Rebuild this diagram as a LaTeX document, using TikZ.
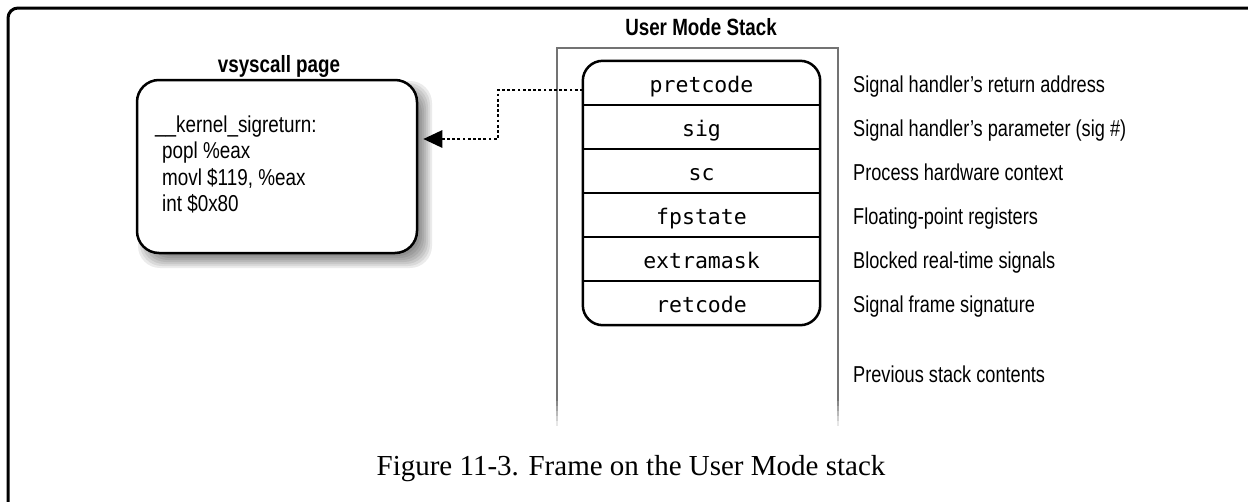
\documentclass[tikz,border=0pt]{standalone}
\usepackage{fontspec}
\setmainfont{Liberation Serif}
\newfontfamily\cond[FakeStretch=0.79]{Liberation Sans}
\newfontfamily\condc[FakeStretch=0.82]{Liberation Sans}
\newfontfamily\condb[FakeStretch=0.8]{Liberation Sans}
\newfontfamily\mono{DejaVu Sans Mono}
\usetikzlibrary{arrows.meta}
\tikzset{
  lbl/.style={anchor=base west, inner sep=0pt, font=\cond\fontsize{23}{27}\selectfont},
  code/.style={anchor=base west, inner sep=0pt, font=\condc\fontsize{23}{27}\selectfont},
  ttl/.style={anchor=base, inner sep=0pt, font=\condb\bfseries\fontsize{23.5}{27}\selectfont},
  cell/.style={minimum width=237pt, minimum height=44pt, inner sep=0pt, text height=18pt, text depth=0pt, font=\mono\fontsize{21.5}{25}\selectfont},
  stk/.style={line width=2.5pt},
  frameline/.style={draw=black!55, line width=1.6pt},
  conn/.style={line width=2.8pt, dash pattern=on 2.8pt off 2.4pt, -{Triangle[length=19pt,width=17pt]}},
}
\begin{document}
\begin{tikzpicture}[x=1pt,y=-1pt]
\useasboundingbox (0,0) rectangle (1248,501);
\clip (0,0) rectangle (1248,501);
% outer frame
\draw[line width=3pt, rounded corners=10pt] (8,8) rectangle (1262,530);
% vsyscall box shadow
\foreach \e in {7,5,3,1,-1,-3,-5} {
  \fill[black, opacity=0.08, rounded corners=22pt] (145-\e,88-\e) rectangle (425+\e,261+\e);
}
\node[draw, fill=white, line width=2.5pt, rounded corners=22pt, minimum width=280pt, minimum height=173pt] (vsys) at (277,166.5) {};
\node[ttl] (vtitle) at (279,72) {vsyscall page};
\node[code] (c1) at (155,132) {\_\_kernel\_sigreturn:};
\node[code] (c2) at (162,158) {popl \%eax};
\node[code] (c3) at (162,185) {movl \$119, \%eax};
\node[code] (c4) at (162,211) {int \$0x80};
% user mode stack frame
\node[ttl] (stitle) at (701,35) {User Mode Stack};
\draw[frameline] (557,396) -- (557,48) -- (838,48) -- (838,396);
\foreach \k in {0,...,5} {
  \pgfmathsetmacro{\op}{1-\k/6}
  \draw[draw=black!55, line width=1.6pt, opacity=\op] (557,396+\k*5) -- (557,401+\k*5);
  \draw[draw=black!55, line width=1.6pt, opacity=\op] (838,396+\k*5) -- (838,401+\k*5);
}
% stack cells
\node[cell] (r1) at (701.5,83) {pretcode};
\node[cell] (r2) at (701.5,127) {sig};
\node[cell] (r3) at (701.5,171) {sc};
\node[cell] (r4) at (701.5,215) {fpstate};
\node[cell] (r5) at (701.5,259) {extramask};
\node[cell] (r6) at (701.5,303) {retcode};
\draw[stk, rounded corners=20pt] (r1.north west) rectangle (r6.south east);
\foreach \r in {r1,r2,r3,r4,r5} {
  \draw[stk] (\r.south west) -- (\r.south east);
}
% labels
\node[lbl] (l1) at (853,92) {Signal handler’s return address};
\node[lbl] (l2) at (853,136) {Signal handler’s parameter (sig \#)};
\node[lbl] (l3) at (853,180) {Process hardware context};
\node[lbl] (l4) at (853,224) {Floating-point registers};
\node[lbl] (l5) at (853,268) {Blocked real-time signals};
\node[lbl] (l6) at (853,312) {Signal frame signature};
\node[lbl] (l7) at (853,382) {Previous stack contents};
% connector
\coordinate (bend) at (498,139);
\draw[conn] (r1.west |- 0,90) -| (bend) -- ([xshift=5pt]vsys.east |- bend);
% caption
\node[anchor=base, inner sep=0pt, font=\fontsize{29}{33}\selectfont] (cap) at (631,475) {Figure 11-3. Frame on the User Mode stack};
\end{tikzpicture}
\end{document}
